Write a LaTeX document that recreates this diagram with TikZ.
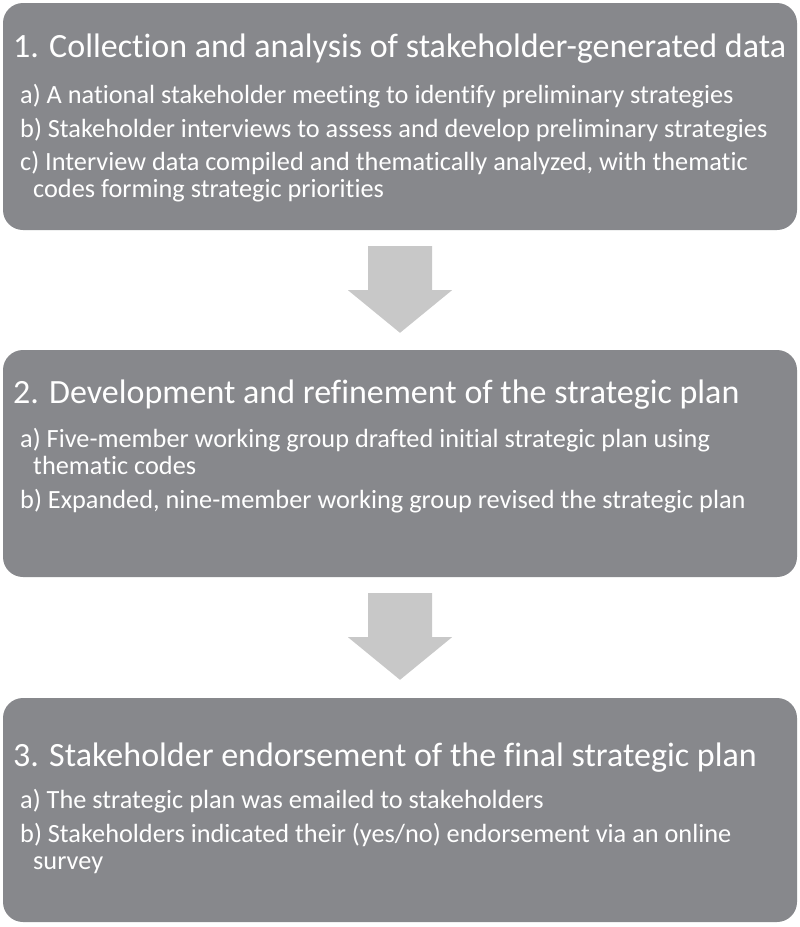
\documentclass[tikz,border=0pt]{standalone}
\usepackage{fontspec}
\setmainfont{Carlito}[Ligatures=NoCommon]
\usetikzlibrary{calc}
\definecolor{boxgray}{HTML}{87888C}
\definecolor{arrowgray}{HTML}{C8C8C8}
\tikzset{
  stagebox/.style={fill=boxgray, draw=none, rounded corners=20pt, minimum width=794pt, minimum height=227pt, inner sep=0pt},
  titletext/.style={anchor=base west, inner sep=0pt, text=white, font=\fontsize{34}{40}\selectfont},
  itemtext/.style={anchor=base west, inner sep=0pt, text=white, align=left, font=\fontsize{26.3}{27}\selectfont},
  blockarrow/.style={fill=arrowgray, draw=none}
}
\newcommand{\contind}{\hspace*{13pt}}
\begin{document}
\begin{tikzpicture}[x=1pt,y=-1pt]
\useasboundingbox (0,0) rectangle (800,927);
\fill[white] (0,0) rectangle (800,927);

\node[stagebox] (s1) at (400,116.5) {};
\node[stagebox] (s2) at (400,463.5) {};
\node[stagebox, minimum height=224pt] (s3) at (400,810) {};

% box 1 (multi-line nodes: base = last line)
\node[titletext] (t1) at (13,57) {1. Collection and analysis of stakeholder-generated data};
\node[itemtext] (i1a) at (20,103) {a) A national stakeholder meeting to identify preliminary strategies};
\node[itemtext] (i1b) at (20,137) {b) Stakeholder interviews to assess and develop preliminary strategies};
\node[itemtext] (i1c) at (20,197) {c) Interview data compiled and thematically analyzed, with thematic\\\contind codes forming strategic priorities};

% box 2
\node[titletext] (t2) at (13,403) {2. Development and refinement of the strategic plan};
\node[itemtext] (i2a) at (20,474) {a) Five-member working group drafted initial strategic plan using\\\contind thematic codes};
\node[itemtext] (i2b) at (20,508) {b) Expanded, nine-member working group revised the strategic plan};

% box 3
\node[titletext] (t3) at (13,766) {3. Stakeholder endorsement of the final strategic plan};
\node[itemtext] (i3a) at (20,808) {a) The strategic plan was emailed to stakeholders};
\node[itemtext] (i3b) at (20,869) {b) Stakeholders indicated their (yes/no) endorsement via an online\\\contind survey};

% arrows
\fill[blockarrow] ($(s1.south)+(-32,16)$) -- ($(s1.south)+(32,16)$) -- ($(s1.south)+(32,60)$) -- ($(s1.south)+(52,60)$)
  -- ($(s2.north)+(0,-17)$) -- ($(s1.south)+(-52,60)$) -- ($(s1.south)+(-32,60)$) -- cycle;
\fill[blockarrow] ($(s2.south)+(-32,16)$) -- ($(s2.south)+(32,16)$) -- ($(s2.south)+(32,60)$) -- ($(s2.south)+(52,60)$)
  -- ($(s3.north)+(0,-18)$) -- ($(s2.south)+(-52,60)$) -- ($(s2.south)+(-32,60)$) -- cycle;
\end{tikzpicture}
\end{document}
